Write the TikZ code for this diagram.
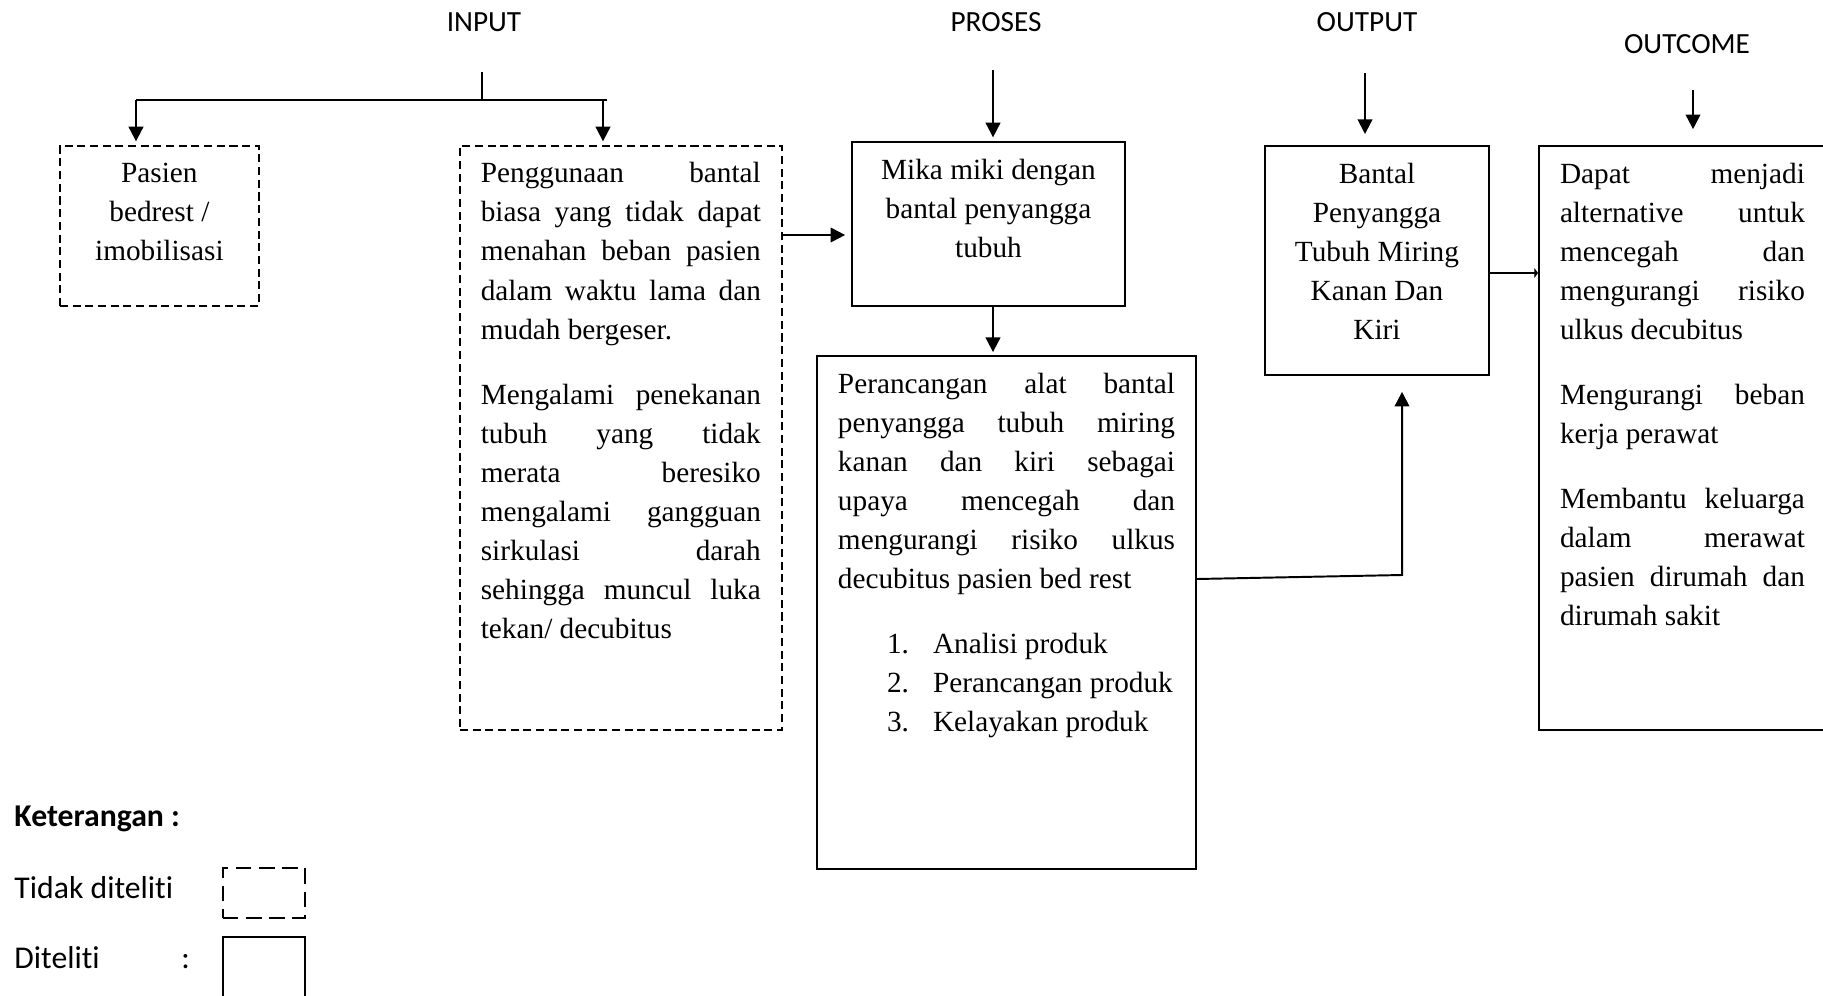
\documentclass[tikz,border=0pt]{standalone}
\usepackage{fontspec}
\setmainfont{Liberation Serif}
\setsansfont[Ligatures=NoCommon]{Carlito}
\usetikzlibrary{arrows.meta,positioning}

% text block inside a box: width, height, text
\newcommand{\boxtext}[4][]{\parbox[t][#3][t]{#2}{#1\fontsize{12}{16}\selectfont
  \setlength{\parskip}{10.7pt}\tolerance=10000\hbadness=10000
  \rule{0pt}{15.2pt}#4}}

\begin{document}
\begin{tikzpicture}[x=0.41pt, y=-0.41pt, >=Triangle,
  box/.style={draw, line width=0.8pt, inner xsep=8.61pt, inner ysep=0pt, anchor=north west},
  dbox/.style={box, line width=0.7pt, dash pattern=on 3.3pt off 1.9pt},
  head/.style={font=\sffamily\fontsize{12}{14}\selectfont, inner sep=0pt},
  legend/.style={font=\sffamily\fontsize{13}{15}\selectfont, inner sep=0pt, anchor=base west},
  arr/.style={line width=0.8pt, -{Triangle[length=6pt,width=6pt]}}]
\useasboundingbox (0,0) rectangle (1823,995);

% Column titles
\node[head] (input) at (484,22) {INPUT};
\node[head] (proses) at (996,22) {PROSES};
\node[head] (output) at (1367,22) {OUTPUT};
\node[head] (outcome) at (1687,44) {OUTCOME};

% Input boxes (dashed)
\node[dbox] (pasien) at (59,145)
  {\boxtext[\centering]{64.4pt}{65.6pt}{Pasien\\ bedrest /\\ imobilisasi}};
\node[dbox] (peng) at (459,145)
  {\boxtext{114.8pt}{239.4pt}{Penggunaan bantal\linebreak biasa yang tidak dapat\linebreak
   menahan beban pasien\linebreak dalam waktu lama dan\linebreak mudah bergeser.\par
   Mengalami penekanan\linebreak tubuh yang tidak\linebreak merata beresiko\linebreak
   mengalami gangguan\linebreak sirkulasi darah\linebreak sehingga muncul luka\linebreak
   tekan/ decubitus}};

% Process boxes
\node[box] (mika) at (851,141)
  {\boxtext[\centering]{94.7pt}{67.2pt}{Mika miki dengan\\ bantal penyangga\\ tubuh}};
\node[box] (peranc) at (816,355)
  {\boxtext{138.2pt}{210.3pt}{Perancangan alat bantal\linebreak penyangga tubuh miring\linebreak
   kanan dan kiri sebagai\linebreak upaya mencegah dan\linebreak mengurangi risiko ulkus\linebreak
   decubitus pasien bed rest\par
   \hspace*{20.1pt}\makebox[18.9pt][l]{1.}Analisi produk\\
   \hspace*{20.1pt}\makebox[18.9pt][l]{2.}Perancangan produk\\
   \hspace*{20.1pt}\makebox[18.9pt][l]{3.}Kelayakan produk}};

% Output and outcome boxes
\node[box] (bantal) at (1264,145)
  {\boxtext[\centering]{74.6pt}{93.9pt}{Bantal\\ Penyangga\\ Tubuh Miring\\ Kanan Dan\\ Kiri}};
\node[box] (outc) at (1538,145)
  {\boxtext{100.4pt}{239.4pt}{Dapat menjadi\linebreak alternative untuk\linebreak mencegah dan\linebreak
   mengurangi risiko\linebreak ulkus decubitus\par
   Mengurangi beban\linebreak kerja perawat\par
   Membantu keluarga\linebreak dalam merawat\linebreak pasien dirumah dan\linebreak dirumah sakit}};

% Input branch
\coordinate (stub) at (482,72);
\coordinate (split) at (482,100);
\coordinate (brL) at (136,100);
\coordinate (brR) at (603,100);
\draw[line width=0.5pt] (stub) -- (split);
\draw[line width=0.7pt] (brL) -- ([xshift=1.6pt]brR);
\draw[arr, shorten >=1.5pt] (brL) -- (brL |- pasien.north);
\draw[arr, shorten >=1.5pt] (brR) -- (brR |- peng.north);
\coordinate (pm) at (781,235);
\draw[arr, shorten >=2.4pt] (pm -| peng.east) -- (pm -| mika.west);

% Process arrows
\coordinate (prTop) at (993,70);
\draw[arr, shorten >=1.5pt] (prTop) -- (prTop |- mika.north);
\draw[arr, shorten >=1.2pt] (prTop |- mika.south) -- (prTop |- peranc.north);
\coordinate (pb) at (1195,579);
\coordinate (bend) at (1402,575);
\draw[arr, shorten >=6.5pt] (pb -| peranc.east) -- (bend) -- (bend |- bantal.south);

% Output and outcome arrows
\coordinate (outTop) at (1365,73);
\draw[arr, shorten >=4.5pt] (outTop) -- (outTop |- bantal.north);
\coordinate (ocTop) at (1693,90);
\draw[arr, shorten >=6.5pt] (ocTop) -- (ocTop |- outc.north);
\coordinate (bo) at (1488,273);
\draw[line width=0.8pt, -{Triangle[length=1.5pt,width=4pt]}] (bo -| bantal.east) -- (bo -| outc.west);

% Legend
\node[legend] (ket) at (14,826) {\bfseries Keterangan :};
\node[legend] (tdk) at (14,898) {Tidak diteliti};
\node[legend] (dit) at (14,968) {Diteliti};
\node[legend] (colon) at (181,968) {:};
\node[draw, line width=0.7pt, dash pattern=on 6.4pt off 3.1pt, inner sep=0pt,
  minimum width=33.6pt, minimum height=20.5pt, anchor=north west] (tdkbox) at (222,867) {};
\node[draw, line width=0.8pt, inner sep=0pt,
  minimum width=33.6pt, minimum height=30pt, anchor=north west] (ditbox) at (222,936) {};
\end{tikzpicture}
\end{document}
